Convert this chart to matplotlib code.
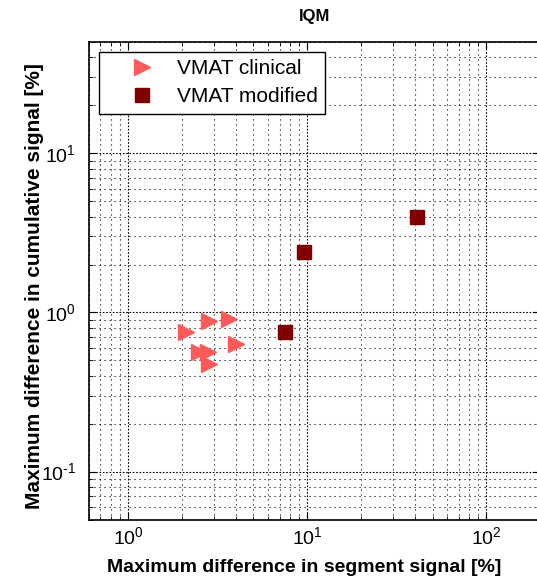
import matplotlib
matplotlib.use("Agg")
import matplotlib.pyplot as plt
from matplotlib.ticker import FuncFormatter, LogLocator
import numpy as np

plt.rcParams['font.family'] = ['Liberation Sans', 'DejaVu Sans']
plt.rcParams['mathtext.fontset'] = 'custom'
plt.rcParams['mathtext.rm'] = 'Liberation Sans'
plt.rcParams['mathtext.it'] = 'Liberation Sans:italic'
plt.rcParams['mathtext.bf'] = 'Liberation Sans:bold'

# data (log-log)
clin_x = [2.09, 2.83, 3.64, 4.02, 2.49, 2.80, 2.83]
clin_y = [0.755, 0.879, 0.914, 0.629, 0.566, 0.564, 0.476]
mod_x = [9.52, 40.7, 7.49]
mod_y = [2.40, 4.0, 0.755]

W, H = 537, 583
fig = plt.figure(figsize=(W / 100, H / 100), dpi=100)
# axes box in pixels: left 88.5, right 540.4 (just past the image edge), top 42, bottom 519.5
ax = fig.add_axes([88.5 / W, (H - 519.5) / H, (540.4 - 88.5) / W, (519.5 - 42) / H])

ax.set_xscale('log')
ax.set_yscale('log')
ax.set_xlim(0.6, 200)
ax.set_ylim(0.05, 50)


def decade_label(v, pos):
    # matlab style 10^n, short hyphen for negative exponents
    e = int(round(np.log10(v)))
    return r'$10^{\text{%d}}$' % e


for a in (ax.xaxis, ax.yaxis):
    a.set_major_locator(LogLocator(base=10))
    a.set_major_formatter(FuncFormatter(decade_label))

# matlab style dotted grid
ax.grid(True, which='major', color='black', linestyle=(0, (1.5, 1.5)), linewidth=0.8)
ax.grid(True, which='minor', color='black', linestyle=(0, (1, 3.5)), linewidth=0.8)
ax.set_axisbelow(True)

ax.plot(clin_x, clin_y, linestyle='none', marker='>', color='#ff5a5a',
        markersize=12, label='VMAT clinical')
ax.plot(mod_x, mod_y, linestyle='none', marker='s', color='#7f0000',
        markersize=10.5, label='VMAT modified')

ax.tick_params(which='both', direction='in', top=True, right=True)
ax.tick_params(which='major', length=5, labelsize=14)
ax.tick_params(which='minor', length=3)
ax.tick_params(axis='x', pad=5)
ax.tick_params(axis='y', pad=9)
for s in ax.spines.values():
    s.set_linewidth(1.2)
ax.spines['right'].set_visible(False)

ax.set_title('IQM', fontsize=12, fontweight='bold', pad=15)
ax.set_xlabel('Maximum difference in segment signal [%]', fontsize=14, fontweight='bold')
ax.set_ylabel('Maximum difference in cumulative signal [%]', fontsize=15, fontweight='bold')
ax.xaxis.set_label_coords(0.477, -0.083)
ax.yaxis.set_label_coords(-0.099, 0.489)

leg = ax.legend(loc='upper left', bbox_to_anchor=(0.023, 0.98), borderaxespad=0,
                fancybox=False, framealpha=1, edgecolor='black', fontsize=15,
                handlelength=3.4, handletextpad=0.0, borderpad=0.35, labelspacing=0.45,
                numpoints=1)
leg.get_frame().set_linewidth(1.0)

fig.savefig('out.png', dpi=100)
